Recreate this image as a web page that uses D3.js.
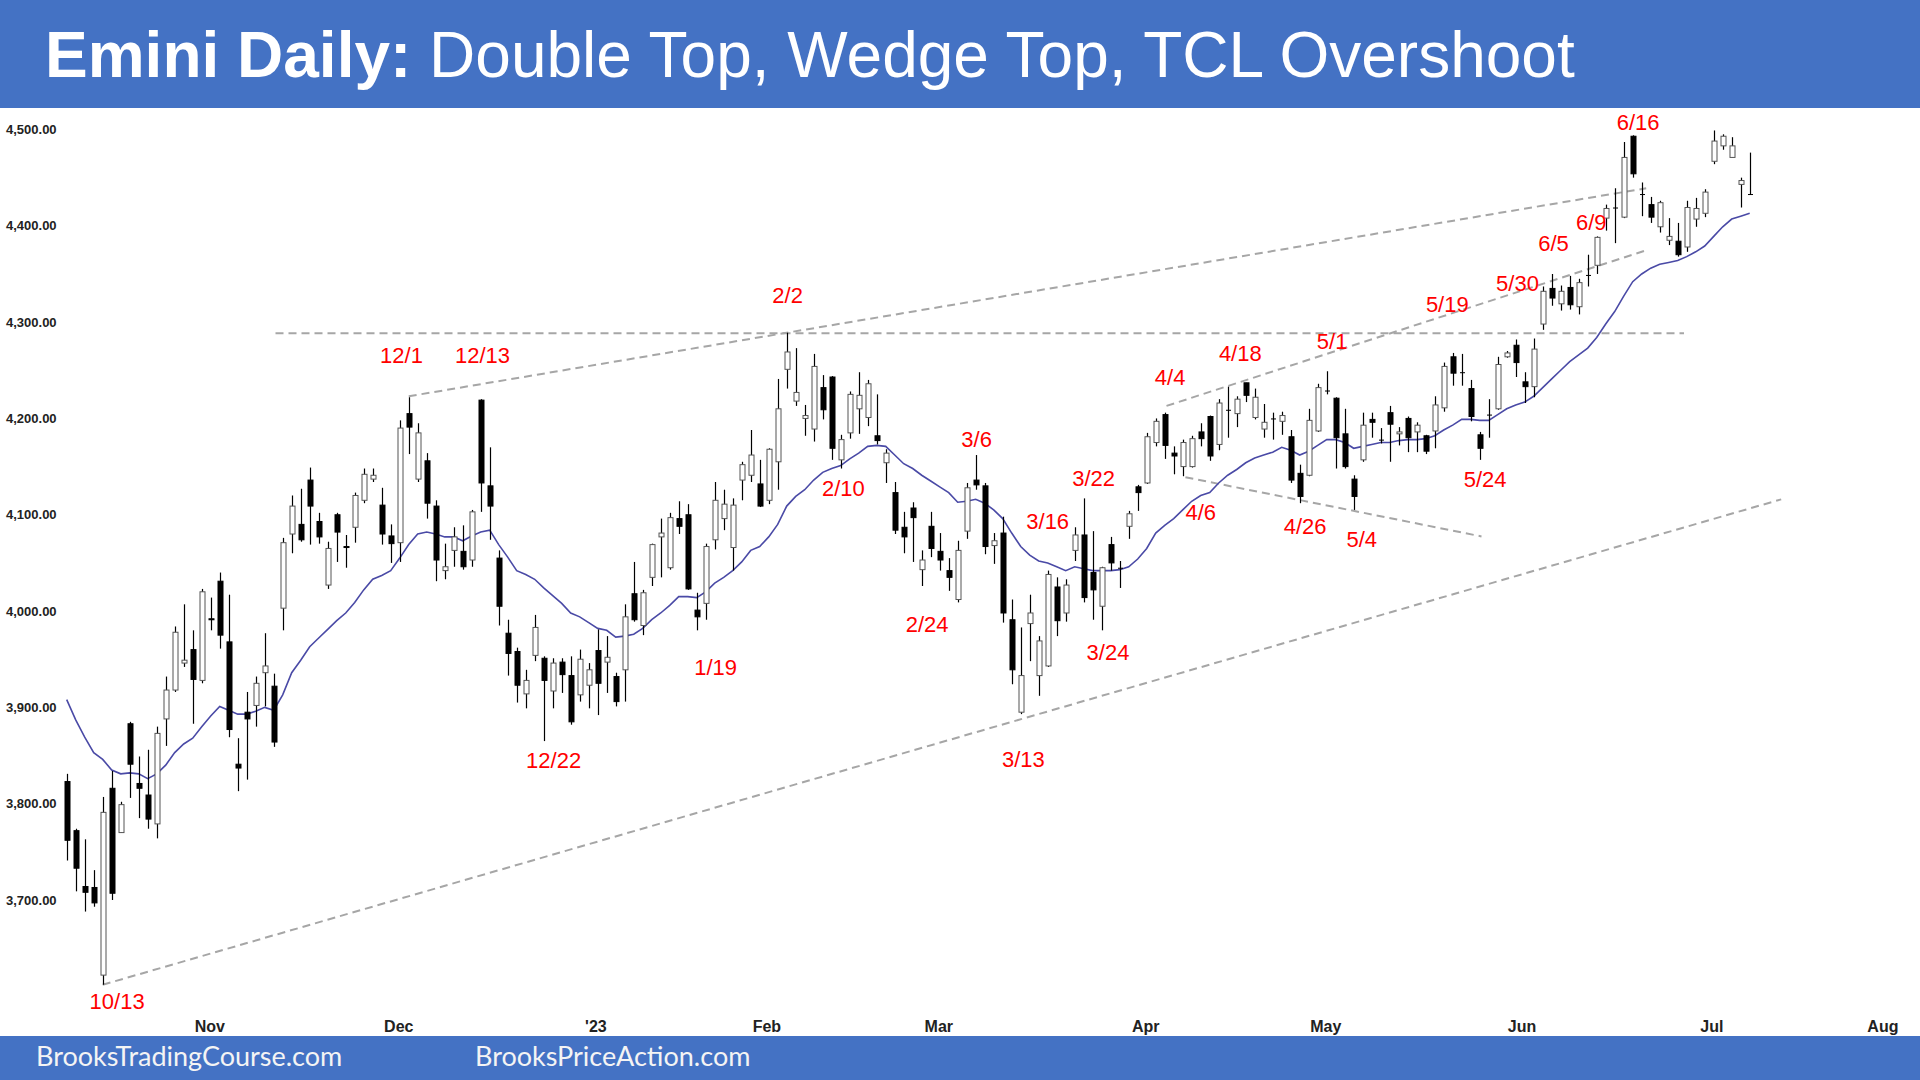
<!DOCTYPE html>
<html><head><meta charset="utf-8">
<script src="https://cdn.jsdelivr.net/npm/d3@7"></script>
<style>body{margin:0;background:#fff;} svg{display:block}</style>
</head><body>
<svg id="c" width="1920" height="1080"></svg>
<script>
// ---------- DATA: daily bars [open, high, low, close] ----------
const oct22 = [
[3823,3831,3741,3762],[3772,3774,3709,3733],[3714,3763,3688,3708],[3713,3731,3693,3697],
[3622,3807,3612,3791],[3816,3834,3700,3707],[3770,3802,3770,3799],[3883,3885,3806,3841],
[3821,3849,3785,3816],[3809,3856,3774,3784],[3779,3880,3764,3873],[3888,3932,3860,3918],
[3918,3984,3916,3978],[3946,4007,3942,3949],[3960,3980,3883,3929],[3928,4023,3925,4020],
[3992,4014,3980,3991]];
const nov22 = [
[4031,4040,3961,3975],[3968,4017,3869,3877],[3841,3868,3813,3837],[3895,3916,3825,3888],
[3902,3932,3880,3925],[3936,3977,3901,3943],[3922,3935,3859,3864],[4003,4076,3980,4071],
[4080,4120,4060,4109],[4090,4127,4072,4074],[4136,4149,4069,4109],[4093,4102,4070,4077],
[4027,4072,4023,4065],[4100,4102,4051,4082],[4067,4079,4045,4066],[4087,4123,4071,4120],
[4115,4148,4112,4142],[4137,4148,4134,4141],[4110,4128,4069,4080],[4078,4090,4050,4070],
[4071,4198,4051,4190]];
const dec22 = [
[4205,4222,4163,4191],[4137,4195,4134,4185],[4156,4164,4096,4112],[4109,4115,4031,4053],
[4042,4070,4033,4046],[4063,4087,4046,4077],[4062,4089,4043,4046],[4053,4105,4046,4103],
[4219,4220,4103,4133],[4130,4170,4074,4109],[4055,4063,3985,4005],[3977,3991,3933,3956],
[3958,3962,3905,3923],[3914,3939,3899,3928],[3954,3996,3948,3983],[3951,3953,3865,3928],
[3917,3951,3899,3946],[3947,3951,3915,3934],[3933,3953,3882,3885],[3913,3960,3906,3950],
[3923,3946,3899,3939]];
const jan23 = [
[3959,3981,3892,3925],[3947,3974,3915,3952],[3932,3936,3901,3906],[3939,4007,3906,3994],
[4018,4051,3989,3991],[3985,4022,3975,4019],[4035,4070,4026,4069],[4077,4096,4035,4081],
[4045,4102,4043,4097],[4096,4114,4080,4088],[4100,4111,4022,4023],[4001,4019,3980,3994],
[4008,4070,3991,4067],[4074,4134,4064,4115],[4096,4126,4084,4111],[4066,4117,4042,4110],
[4136,4155,4115,4152],[4141,4188,4134,4162],[4132,4157,4108,4109],[4115,4169,4111,4168]];
const feb23 = [
[4155,4241,4126,4210],[4251,4289,4231,4269],[4218,4273,4213,4227],[4200,4214,4182,4203],
[4189,4267,4176,4254],[4232,4245,4199,4209],[4243,4244,4157,4169],[4157,4183,4148,4178],
[4185,4228,4179,4225],[4210,4248,4184,4224],[4201,4240,4192,4236],[4182,4225,4173,4177],
[4154,4168,4133,4164],[4123,4134,4080,4084],[4087,4103,4060,4077],[4107,4113,4051,4097],
[4043,4063,4026,4053],[4088,4103,4056,4065],[4062,4081,4042,4053]];
const mar23 = [
[4042,4055,4021,4035],[4012,4073,4009,4063],[4083,4133,4075,4128],[4136,4162,4126,4131],
[4130,4133,4059,4067],[4068,4081,4049,4073],[4081,4098,3988,3998],[3991,4012,3924,3939],
[3895,3983,3893,3933],[3987,4017,3948,3998],[3933,3974,3912,3969],[3943,4042,3942,4038],
[4025,4035,3974,3990],[3998,4033,3989,4027],[4063,4087,4052,4079],[4079,4117,4009,4014],
[4040,4083,3991,4022],[4005,4046,3980,4045],[4069,4077,4042,4050],[4045,4052,4024,4045],
[4088,4104,4075,4101],[4129,4131,4104,4123],[4133,4185,4132,4181]];
const apr23 = [
[4175,4200,4171,4197],[4204,4206,4158,4172],[4164,4171,4142,4161],[4150,4178,4140,4175],
[4150,4182,4149,4179],[4186,4195,4171,4179],[4202,4203,4156,4161],[4173,4220,4167,4216],
[4209,4233,4180,4209],[4205,4223,4191,4220],[4237,4237,4217,4224],[4201,4231,4199,4222],
[4189,4215,4180,4196],[4200,4206,4178,4200],[4197,4207,4183,4203],[4181,4188,4133,4136],
[4143,4152,4112,4119],[4141,4210,4140,4198],[4187,4236,4186,4232]];
const may23 = [
[4229,4249,4225,4229],[4221,4222,4148,4180],[4184,4210,4148,4150],[4137,4141,4105,4119],
[4157,4206,4155,4193],[4199,4206,4180,4196],[4178,4190,4174,4178],[4206,4213,4155,4194],
[4184,4191,4172,4186],[4200,4202,4165,4180],[4186,4196,4165,4193],[4182,4183,4163,4166],
[4187,4223,4169,4214],[4211,4258,4207,4254],[4264,4268,4234,4247],[4248,4267,4234,4248],
[4231,4240,4197,4202],[4183,4186,4157,4169],[4204,4220,4180,4204],[4210,4264,4209,4256],
[4264,4270,4263,4268],[4276,4282,4243,4258],[4238,4248,4216,4233]];
const jun23 = [
[4233,4283,4222,4272],[4298,4337,4292,4332],[4335,4350,4317,4325],[4319,4338,4312,4332],
[4336,4348,4313,4318],[4316,4345,4308,4341],[4349,4370,4337,4349],[4359,4389,4350,4388],
[4408,4422,4395,4418],[4419,4439,4382,4419],[4409,4487,4408,4471],[4493,4494,4450,4454],
[4433,4445,4410,4433],[4422,4430,4403,4409],[4399,4426,4393,4424],[4385,4408,4380,4389],
[4384,4403,4368,4370],[4378,4426,4373,4419],[4407,4429,4399,4418],[4413,4438,4409,4435],
[4467,4499,4464,4488]];
const jul23 = [
[4483,4495,4479,4493],[4471,4492,4471,4483],[4443,4450,4419,4447],[4433,4476,4432,4433]];

// 20-bar moving average, one value per bar
const ema20 = [
3908,3887,3869,3853,3846,3835,3831,3832,3831,3826,3831,3840,3853,3862,3868,3880,3891,3901,3897,3893,
3893,3896,3900,3897,3913,3936,3949,3963,3972,3981,3990,3998,4009,4022,4033,4037,4042,4055,4069,4080,
4082,4080,4077,4077,4073,4078,4082,4084,4069,4056,4042,4038,4033,4024,4016,4008,3998,3994,3988,3982,
3980,3973,3974,3976,3982,3991,3998,4006,4015,4015,4014,4020,4029,4035,4042,4051,4063,4067,4077,4090,
4109,4119,4126,4136,4144,4148,4151,4158,4164,4171,4172,4171,4162,4153,4148,4141,4135,4129,4123,4113,
4114,4116,4112,4105,4096,4081,4067,4058,4052,4050,4046,4042,4046,4044,4042,4042,4042,4043,4046,4054,
4065,4081,4089,4096,4105,4114,4120,4123,4133,4141,4147,4154,4159,4162,4165,4170,4167,4162,4166,4172,
4178,4178,4175,4169,4171,4173,4175,4175,4177,4178,4178,4179,4182,4188,4193,4199,4199,4198,4198,4204,
4210,4214,4217,4223,4232,4241,4250,4259,4266,4273,4284,4298,4311,4327,4342,4350,4356,4360,4362,4364,
4368,4373,4379,4389,4399,4407,4410,4413];

const monthBars = [oct22, nov22, dec22, jan23, feb23, mar23, apr23, may23, jun23, jul23];
// x-axis month labels and their position on the bar axis (bar index)
const xTickLabels = ["Nov","Dec","'23","Feb","Mar","Apr","May","Jun","Jul","Aug"];
const xTickBars   = [15.9, 36.9, 58.8, 77.8, 96.9, 119.9, 139.9, 161.7, 182.8, 201.8];
const yTicks = [3700,3800,3900,4000,4100,4200,4300,4400,4500];

// trend lines: [barIndex, price] endpoints
const line2_2High   = [[23.2,4288.5],[179.7,4288.5]];
const wedgeTopLine  = [[38,4223],[175.5,4439]];
const bullTrendLine = [[4,3612],[190.5,4116]];
const channelTop    = [[122.2,4213],[175.3,4374]];
const channelBottom = [[124.3,4139],[157.2,4077.5]];

// annotation labels: text, bar index, price
const noteText  = ["10/13","12/1","12/13","12/22","1/19","2/2","2/10","2/24","3/6","3/13","3/16","3/22","3/24",
                   "4/4","4/6","4/18","4/26","5/1","5/4","5/19","5/24","5/30","6/5","6/9","6/16"];
const noteBar   = [5.6,37.2,46.2,54.1,72.1,80.1,86.3,95.6,101.1,106.3,109,114.1,115.7,
                   122.6,126,130.4,137.6,140.6,143.9,153.4,157.6,161.2,165.2,169.4,174.6];
const notePrice = [3595,4266,4266,3845,3942,4328,4127,3986,4178,3846,4093,4138,3957,
                   4243,4103,4268,4088,4280,4075,4319,4137,4340,4382,4404,4507];

// ---------- DRAW ----------
const bars = monthBars.flat().map(b => ({o:b[0], h:b[1], l:b[2], c:b[3]}));
const N = bars.length;
const svg = d3.select("#c");
const BLUE = "#4472C4";

const x = d3.scaleLinear().domain([0, N-1]).range([66.7, 66.7 + (N-1)*9]);
const y = d3.scaleLinear().domain([3700, 4500]).range([900, 129.5]);

svg.append("rect").attr("width",1920).attr("height",1080).attr("fill","#fff");

// title bar
svg.append("rect").attr("x",0).attr("y",0).attr("width",1920).attr("height",108).attr("fill",BLUE);
const title = svg.append("text").attr("x",45).attr("y",77)
  .attr("font-family","'Liberation Sans', Arial, sans-serif").attr("font-size",64).attr("fill","#fff");
title.append("tspan").attr("font-weight","bold").text("Emini Daily: ");
title.append("tspan").text("Double Top, Wedge Top, TCL Overshoot");

// footer bar
svg.append("rect").attr("x",0).attr("y",1036).attr("width",1920).attr("height",44).attr("fill",BLUE);
const foot = svg.append("g").attr("font-family","Lato, 'Open Sans', sans-serif").attr("font-size",27).attr("fill","#f4f4f4");
foot.append("text").attr("x",36).attr("y",1066).text("BrooksTradingCourse.com");
foot.append("text").attr("x",475).attr("y",1066).text("BrooksPriceAction.com");

// y axis labels
svg.append("g").selectAll("text").data(yTicks).join("text")
  .attr("x",6).attr("y",d=>y(d)).attr("dy","0.35em")
  .attr("font-family","'Liberation Sans', Arial, sans-serif").attr("font-weight","bold").attr("font-size",13)
  .attr("fill","#222").text(d=>d3.format(",.2f")(d));

// x axis labels
svg.append("g").selectAll("text").data(xTickLabels).join("text")
  .attr("x",(d,i)=>x(xTickBars[i])).attr("y",1026).attr("dy","0.35em").attr("text-anchor","middle")
  .attr("font-family","'Liberation Sans Narrow', 'Arial Narrow', sans-serif").attr("font-weight","bold").attr("font-size",16)
  .attr("fill","#222").text(d=>d);

// dashed lines
const lineGen = d3.line().x(d=>x(d[0])).y(d=>y(d[1]));
svg.append("g").selectAll("path").data([line2_2High, wedgeTopLine, bullTrendLine, channelTop, channelBottom]).join("path")
  .attr("d",lineGen).attr("fill","none").attr("stroke","#a6a6a6").attr("stroke-width",2).attr("stroke-dasharray","8,5");

// moving average
svg.append("path").datum(ema20).attr("d", d3.line().x((d,i)=>x(i)).y(d=>y(d)))
  .attr("fill","none").attr("stroke","#4a4aa6").attr("stroke-width",1.6);

// candles
const cg = svg.append("g");
cg.selectAll("line").data(bars).join("line")
  .attr("x1",(d,i)=>Math.round(x(i))+0.5).attr("x2",(d,i)=>Math.round(x(i))+0.5)
  .attr("y1",d=>y(d.h)).attr("y2",d=>y(d.l)).attr("stroke","#000").attr("stroke-width",1.2);
cg.selectAll("rect").data(bars).join("rect")
  .attr("x",(d,i)=>Math.round(x(i))-2)
  .attr("y",d=>y(Math.max(d.o,d.c)))
  .attr("width",5)
  .attr("height",d=>Math.max(1, Math.abs(y(d.o)-y(d.c))))
  .attr("fill",d=>d.c>=d.o && d.c!==d.o ? "#fff" : "#000")
  .attr("stroke",d=>d.c>d.o ? "#555" : "#000").attr("stroke-width",d=>d.c===d.o?0:1);

// notes
svg.append("g").selectAll("text").data(noteText).join("text")
  .attr("x",(d,i)=>x(noteBar[i])).attr("y",(d,i)=>y(notePrice[i])).attr("dy","0.35em").attr("text-anchor","middle")
  .attr("font-family","'Liberation Sans', Arial, sans-serif").attr("font-size",22).attr("fill","#ff0000").text(d=>d);
</script>
</body></html>
